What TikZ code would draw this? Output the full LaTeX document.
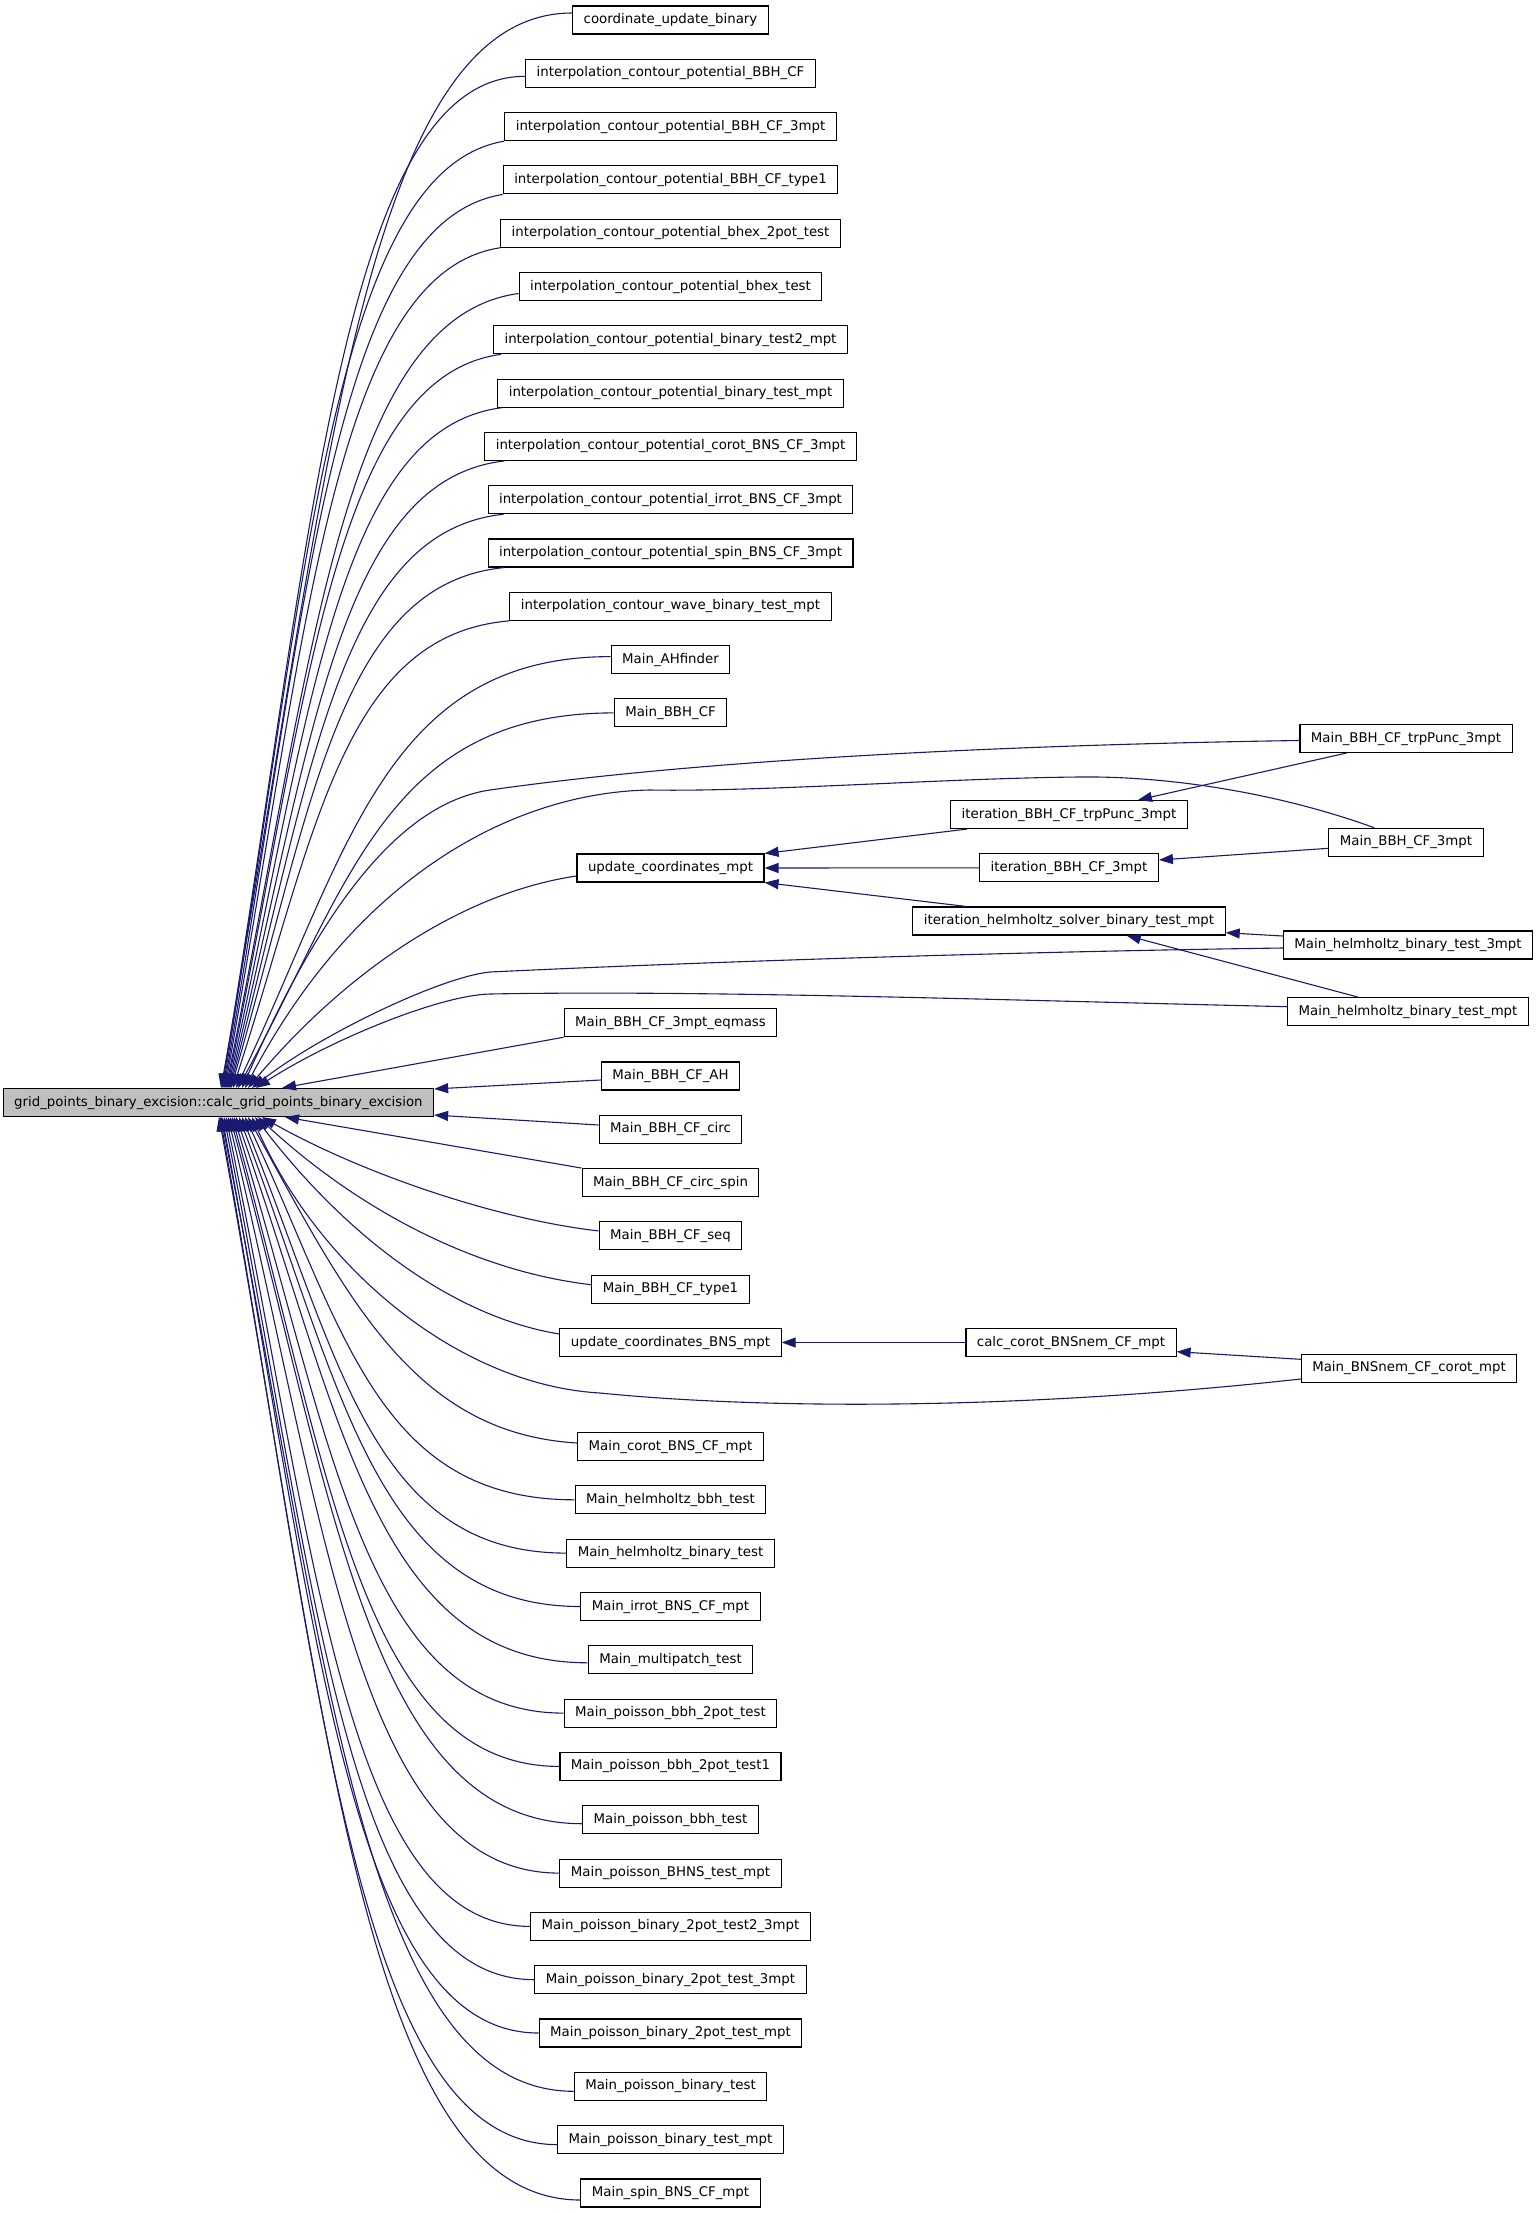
\documentclass[tikz,border=0pt]{standalone}
\usepackage{fontspec}
\setmainfont{DejaVu Sans}
\usetikzlibrary{calc,arrows.meta}
\definecolor{mblue}{RGB}{25,25,112}
\definecolor{rootgray}{RGB}{191,191,191}
\newcommand\ce[6]{\draw[eline] let \p1=(#1), \p2=(#2) in (\p1) .. controls ({\x1-#3*(\x1-\x2)},{\y1+#4*(\y2-\y1)}) and ({\x2+#5*(\x1-\x2)},{\y2+#6*(\y1-\y2)}) .. (\p2);}
\begin{document}
\begin{tikzpicture}[x=1pt,y=-1pt,
  box/.style={draw=black,line width=1.1pt,fill=white,minimum height=28pt,inner xsep=11pt,inner ysep=0pt,text height=10pt,text depth=3pt,font=\fontsize{13.33}{16}\selectfont},
  rootbox/.style={box,fill=rootgray},
  eline/.style={draw=mblue,line width=1.1pt,-{Triangle[length=14pt,width=10pt]}}]
\useasboundingbox (0,0) rectangle (1539,2213);
% root
\node[rootbox] (root) at (218.4,1102.5) {grid\_points\_binary\_excision::calc\_grid\_points\_binary\_excision};
% left column
\node[box] (n0) at (670.5,20) {coordinate\_update\_binary};
\node[box] (n1) at (670.5,73.3) {interpolation\_contour\_potential\_BBH\_CF};
\node[box] (n2) at (670.5,126.6) {interpolation\_contour\_potential\_BBH\_CF\_3mpt};
\node[box] (n3) at (670.5,179.9) {interpolation\_contour\_potential\_BBH\_CF\_type1};
\node[box] (n4) at (670.5,233.2) {interpolation\_contour\_potential\_bhex\_2pot\_test};
\node[box] (n5) at (670.5,286.5) {interpolation\_contour\_potential\_bhex\_test};
\node[box] (n6) at (670.5,339.8) {interpolation\_contour\_potential\_binary\_test2\_mpt};
\node[box] (n7) at (670.5,393.1) {interpolation\_contour\_potential\_binary\_test\_mpt};
\node[box] (n8) at (670.5,446.4) {interpolation\_contour\_potential\_corot\_BNS\_CF\_3mpt};
\node[box] (n9) at (670.5,499.7) {interpolation\_contour\_potential\_irrot\_BNS\_CF\_3mpt};
\node[box] (n10) at (670.5,553) {interpolation\_contour\_potential\_spin\_BNS\_CF\_3mpt};
\node[box] (n11) at (670.5,606.3) {interpolation\_contour\_wave\_binary\_test\_mpt};
\node[box] (n12) at (670.5,659.6) {Main\_AHfinder};
\node[box] (n13) at (670.5,712.9) {Main\_BBH\_CF};
\node[box] (ucm) at (670.5,868) {update\_coordinates\_mpt};
\node[box] (eq) at (670.5,1022.7) {Main\_BBH\_CF\_3mpt\_eqmass};
\node[box] (ah) at (670.5,1076) {Main\_BBH\_CF\_AH};
\node[box] (circ) at (670.5,1129.3) {Main\_BBH\_CF\_circ};
\node[box] (circspin) at (670.5,1182.6) {Main\_BBH\_CF\_circ\_spin};
\node[box] (seq) at (670.5,1235.9) {Main\_BBH\_CF\_seq};
\node[box] (type1) at (670.5,1289.2) {Main\_BBH\_CF\_type1};
\node[box] (ubns) at (670.5,1342.5) {update\_coordinates\_BNS\_mpt};
\node[box] (corot) at (670.5,1446.5) {Main\_corot\_BNS\_CF\_mpt};
\node[box] (hbbh) at (670.5,1499.8) {Main\_helmholtz\_bbh\_test};
\node[box] (hbin) at (670.5,1553.1) {Main\_helmholtz\_binary\_test};
\node[box] (irrot) at (670.5,1606.5) {Main\_irrot\_BNS\_CF\_mpt};
\node[box] (multi) at (670.5,1659.8) {Main\_multipatch\_test};
\node[box] (p2) at (670.5,1713.1) {Main\_poisson\_bbh\_2pot\_test};
\node[box] (p21) at (670.5,1766.4) {Main\_poisson\_bbh\_2pot\_test1};
\node[box] (pbbh) at (670.5,1819.7) {Main\_poisson\_bbh\_test};
\node[box] (bhns) at (670.5,1873.1) {Main\_poisson\_BHNS\_test\_mpt};
\node[box] (t23) at (670.5,1926.4) {Main\_poisson\_binary\_2pot\_test2\_3mpt};
\node[box] (t3) at (670.5,1979.7) {Main\_poisson\_binary\_2pot\_test\_3mpt};
\node[box] (tm) at (670.5,2033) {Main\_poisson\_binary\_2pot\_test\_mpt};
\node[box] (pb) at (670.5,2086.3) {Main\_poisson\_binary\_test};
\node[box] (pbm) at (670.5,2139.6) {Main\_poisson\_binary\_test\_mpt};
\node[box] (spin) at (670.5,2193) {Main\_spin\_BNS\_CF\_mpt};
% middle column
\node[box] (it1) at (1069,814.5) {iteration\_BBH\_CF\_trpPunc\_3mpt};
\node[box] (it2) at (1069,867.8) {iteration\_BBH\_CF\_3mpt};
\node[box] (it3) at (1069,921) {iteration\_helmholtz\_solver\_binary\_test\_mpt};
\node[box] (cc) at (1071,1342.5) {calc\_corot\_BNSnem\_CF\_mpt};
% right column
\node[box] (r1) at (1406,738.5) {Main\_BBH\_CF\_trpPunc\_3mpt};
\node[box] (r2) at (1406,842.3) {Main\_BBH\_CF\_3mpt};
\node[box] (r3) at (1408,945) {Main\_helmholtz\_binary\_test\_3mpt};
\node[box] (r4) at (1408,1011.5) {Main\_helmholtz\_binary\_test\_mpt};
\node[box] (r5) at (1409,1368.3) {Main\_BNSnem\_CF\_corot\_mpt};
% curved edges from above
\ce{[yshift=7]n0.west}{[xshift=2.6]root.north}{0.6}{0}{0.3}{0.55}
\ce{[yshift=-3]n1.west}{[xshift=3.6]root.north}{0.6}{0}{0.3}{0.55}
\ce{n2.south west}{[xshift=4.6]root.north}{0.6}{0.03}{0.3}{0.55}
\ce{n3.south west}{[xshift=5.6]root.north}{0.6}{0.03}{0.3}{0.55}
\ce{n4.south west}{[xshift=6.6]root.north}{0.6}{0.03}{0.3}{0.55}
\ce{[yshift=-7]n5.west}{[xshift=7.6]root.north}{0.6}{0.03}{0.3}{0.55}
\ce{[xshift=8]n6.south west}{[xshift=8.6]root.north}{0.6}{0.03}{0.3}{0.55}
\ce{[xshift=5]n7.south west}{[xshift=9.6]root.north}{0.6}{0.03}{0.3}{0.55}
\ce{[xshift=20]n8.south west}{[xshift=10.6]root.north}{0.6}{0.03}{0.3}{0.55}
\ce{[xshift=16]n9.south west}{[xshift=11.6]root.north}{0.6}{0.03}{0.3}{0.55}
\ce{[xshift=17]n10.south west}{[xshift=12.6]root.north}{0.6}{0.03}{0.3}{0.55}
\ce{n11.south west}{[xshift=14.6]root.north}{0.6}{0.03}{0.3}{0.55}
\ce{[yshift=3]n12.west}{[xshift=17.6]root.north}{0.6}{0}{0.3}{0.55}
\ce{n13.west}{[xshift=19.6]root.north}{0.6}{0}{0.3}{0.55}
\ce{[yshift=-8]ucm.west}{[xshift=29.6]root.north}{0.35}{0.08}{0.3}{0.55}
% straight edges near root
\draw[eline] (eq.south west) -- ([xshift=63.6]root.north);
\draw[eline] ([yshift=-4]ah.west) -- ([yshift=-1]root.north east);
\draw[eline] ([yshift=4.3]circ.west) -- ([yshift=2]root.south east);
\draw[eline] (circspin.north west) -- ([xshift=66.6]root.south);
% curved edges from below
\ce{[yshift=5]seq.west}{[xshift=43.6]root.south}{0.3}{0.1}{0.3}{0.5}
\ce{[yshift=4.5]type1.west}{[xshift=39.6]root.south}{0.35}{0.08}{0.3}{0.55}
\ce{[yshift=8.5]ubns.west}{[xshift=36.6]root.south}{0.35}{0.08}{0.3}{0.55}
\ce{[yshift=3.5]corot.west}{[xshift=29.6]root.south}{0.5}{0.03}{0.3}{0.55}
\ce{hbbh.west}{[xshift=26.6]root.south}{0.6}{0}{0.3}{0.55}
\ce{hbin.west}{[xshift=23.6]root.south}{0.6}{0}{0.3}{0.55}
\ce{irrot.west}{[xshift=20.6]root.south}{0.6}{0}{0.3}{0.55}
\ce{[yshift=-3]multi.west}{[xshift=17.6]root.south}{0.6}{0}{0.3}{0.55}
\ce{p2.west}{[xshift=15.6]root.south}{0.6}{0}{0.3}{0.55}
\ce{p21.west}{[xshift=13.6]root.south}{0.6}{0}{0.3}{0.55}
\ce{[yshift=-4]pbbh.west}{[xshift=11.6]root.south}{0.6}{0}{0.3}{0.55}
\ce{bhns.west}{[xshift=9.6]root.south}{0.6}{0}{0.3}{0.55}
\ce{t23.west}{[xshift=7.6]root.south}{0.6}{0}{0.3}{0.55}
\ce{t3.west}{[xshift=5.6]root.south}{0.6}{0}{0.3}{0.55}
\ce{tm.west}{[xshift=3.6]root.south}{0.6}{0}{0.3}{0.55}
\ce{[yshift=-5]pb.west}{[xshift=2.6]root.south}{0.6}{0}{0.3}{0.55}
\ce{[yshift=-5]pbm.west}{[xshift=1.6]root.south}{0.6}{0}{0.3}{0.55}
\ce{[yshift=-7]spin.west}{[xshift=0.6]root.south}{0.6}{0}{0.3}{0.55}
% long edges from right column
\draw[eline] ([yshift=-2]r1.west) .. controls (1000,745) and (700,760) .. (490,790) .. controls (380,806) and (300,958) .. ([xshift=23.6]root.north);
\draw[eline] ([xshift=46]r2.north west) .. controls (1270,790) and (1160,776) .. (1080,777) .. controls (950,778) and (760,792) .. (650,790) .. controls (520,792) and (360,870) .. ([xshift=26.6]root.north);
\draw[eline] ([yshift=-3]r3.west) .. controls (1000,952) and (700,962) .. (490,972) .. controls (440,977) and (320,1035) .. ([xshift=33.6]root.north);
\draw[eline] ([yshift=4.8]r4.west) .. controls (1000,1000) and (700,990) .. (490,994) .. controls (440,995) and (330,1040) .. ([xshift=37.6]root.north);
\draw[eline] ([yshift=-10.7]r5.west) .. controls (1000,1412) and (750,1408) .. (600,1393) .. controls (460,1385) and (320,1270) .. ([xshift=33.6]root.south);
% middle edges
\draw[eline] ([xshift=17]it1.south west) -- (ucm.north east);
\draw[eline] (it2.west) -- (ucm.east);
\draw[eline] ([xshift=54]it3.north west) -- (ucm.south east);
\draw[eline] ([xshift=47]r1.south west) -- ([xshift=69]it1.north);
\draw[eline] ([yshift=-6]r2.west) -- ([yshift=7.8]it2.east);
\draw[eline] ([yshift=9]r3.west) -- ([yshift=-11.7]it3.east);
\draw[eline] ([xshift=70.5]r4.north west) -- ([xshift=57.7]it3.south);
\draw[eline] (cc.west) -- (ubns.east);
\draw[eline] ([yshift=9]r5.west) -- ([yshift=-9.2]cc.east);
\end{tikzpicture}
\end{document}
